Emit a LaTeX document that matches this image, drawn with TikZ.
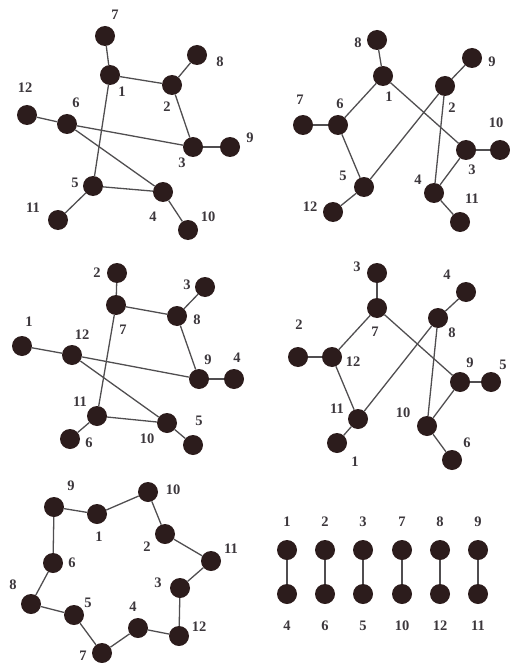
\documentclass[tikz,border=0pt]{standalone}
\usepackage{fontspec}
\setmainfont{Liberation Serif}
\definecolor{nodecol}{RGB}{44,28,28}
\definecolor{edgecol}{RGB}{80,78,80}
\definecolor{labcol}{RGB}{60,55,60}
\begin{document}
\begin{tikzpicture}[x=1pt,y=-1pt,
  v/.style={circle,fill=nodecol,minimum size=20pt,inner sep=0pt},
  lab/.style={font=\bfseries\fontsize{14.5}{15}\selectfont,text=labcol,inner sep=0pt},
  e/.style={draw=edgecol,line width=1.3pt}]
\useasboundingbox (0,0) rectangle (509,663);
% Panel A (top left)
\foreach \n/\x/\y/\lx/\ly in {1/110/75/122/92, 2/172/85/167/107, 3/193/147/182/163, 4/163/192/153/217,
  5/93/186/75/183, 6/67/124/76/103, 7/105/36/115/15, 8/197/55/220/62, 9/230/147/250/138,
  10/188/230/208/217, 11/58/220/33/208, 12/27/115/25/88}
  {\node[v] (a\n) at (\x,\y) {}; \node[lab] (la\n) at (\lx,\ly) {\n};}
\foreach \s/\t in {7/1,1/2,2/8,2/3,3/9,12/6,6/3,6/4,1/5,5/4,5/11,4/10}
  \draw[e] (a\s) -- (a\t);
% Panel B (top right)
\foreach \n/\x/\y/\lx/\ly in {1/383/76/389/97, 2/445/86/452/108, 3/466/150/472/170, 4/434/193/418/180,
  5/364/187/343/176, 6/338/125/340/104, 7/303/125/300/100, 8/377/40/358/43, 9/472/58/492/62,
  10/500/150/496/123, 11/460/222/472/199, 12/333/212/310/207}
  {\node[v] (b\n) at (\x,\y) {}; \node[lab] (lb\n) at (\lx,\ly) {\n};}
\foreach \s/\t in {8/1,1/6,7/6,1/3,3/10,3/4,2/9,2/5,2/4,6/5,5/12,4/11}
  \draw[e] (b\s) -- (b\t);
% Panel C (middle left)
\foreach \n/\x/\y/\lx/\ly in {1/22/346/29/322, 2/117/273/97/273, 3/205/287/187/285, 4/234/379/237/358,
  5/193/445/199/421, 6/70/439/89/443, 7/116/305/123/330, 8/177/316/197/320, 9/199/379/208/360,
  10/167/423/147/439, 11/97/416/80/402, 12/72/355/82/335}
  {\node[v] (c\n) at (\x,\y) {}; \node[lab] (lc\n) at (\lx,\ly) {\n};}
\foreach \s/\t in {2/7,7/8,8/3,8/9,9/4,1/12,12/9,12/10,7/11,11/10,11/6,10/5}
  \draw[e] (c\s) -- (c\t);
% Panel D (middle right)
\foreach \n/\x/\y/\lx/\ly in {1/337/443/355/462, 2/298/357/299/325, 3/377/273/357/267, 4/466/292/447/275,
  5/491/382/503/365, 6/452/460/467/443, 7/377/308/375/332, 8/438/318/452/333, 9/460/382/470/363,
  10/427/426/403/413, 11/358/419/337/409, 12/332/357/353/362}
  {\node[v] (d\n) at (\x,\y) {}; \node[lab] (ld\n) at (\lx,\ly) {\n};}
\foreach \s/\t in {3/7,7/12,2/12,7/9,9/5,9/10,4/8,8/11,8/10,12/11,11/1,10/6}
  \draw[e] (d\s) -- (d\t);
% Panel E (bottom left)
\foreach \n/\x/\y/\lx/\ly in {1/97/514/99/537, 2/165/534/147/547, 3/180/588/158/583, 4/138/628/133/607,
  5/74/615/88/603, 6/53/563/72/563, 7/102/653/83/656, 8/31/604/13/585, 9/54/507/71/486,
  10/148/492/173/490, 11/211/561/231/549, 12/179/636/199/627}
  {\node[v] (g\n) at (\x,\y) {}; \node[lab] (lg\n) at (\lx,\ly) {\n};}
\foreach \s/\t in {9/1,1/10,10/2,2/11,11/3,3/12,12/4,4/7,7/5,5/8,8/6,6/9}
  \draw[e] (g\s) -- (g\t);
% Panel F (bottom right)
\foreach \t/\b/\x in {1/4/287, 2/6/325, 3/5/363, 7/10/402, 8/12/440, 9/11/478}
  {\node[v] (h\t) at (\x,550) {}; \node[lab] (lh\t) at (\x,522) {\t};
   \node[v] (h\b) at (\x,594) {}; \node[lab] (lh\b) at (\x,626) {\b};
   \draw[e] (h\t) -- (h\b);}
\end{tikzpicture}
\end{document}
